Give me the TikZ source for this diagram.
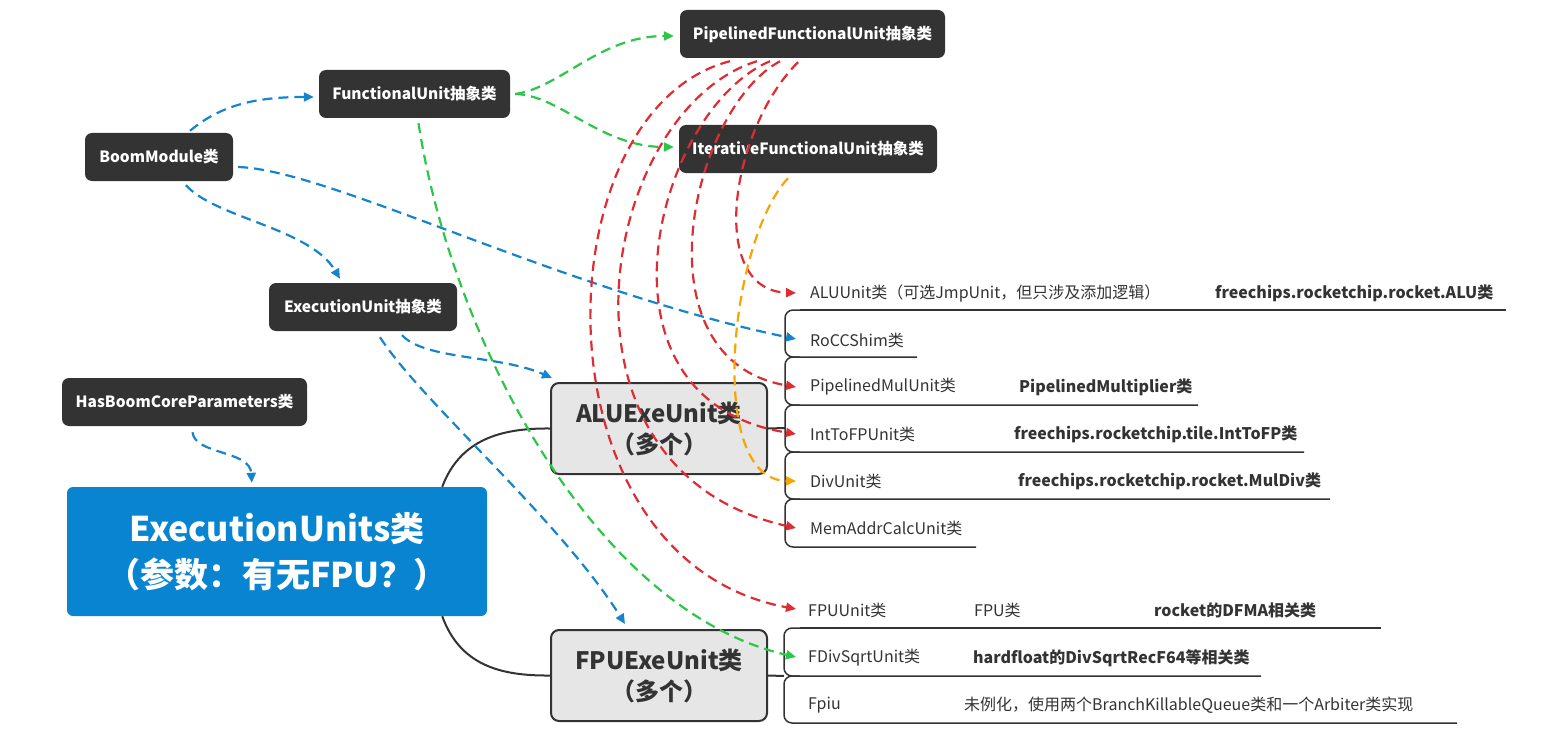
\documentclass[tikz,border=0pt]{standalone}
\usepackage{fontspec}
\setmainfont{Noto Sans CJK SC}
\usetikzlibrary{arrows.meta,calc}
\definecolor{dkbox}{RGB}{51,51,51}
\definecolor{txt}{RGB}{51,51,51}
\definecolor{bigblue}{RGB}{8,132,209}
\definecolor{lgray}{RGB}{230,230,230}
\definecolor{cblue}{RGB}{22,132,204}
\definecolor{cgreen}{RGB}{44,198,72}
\definecolor{cred}{RGB}{222,45,50}
\definecolor{corange}{RGB}{245,166,0}
\begin{document}
\begin{tikzpicture}[x=1pt,y=-1pt,
  dk/.style={rectangle, rounded corners=7pt, fill=dkbox, text=white, inner sep=0pt,
    font=\bfseries\fontsize{15.5}{18}\selectfont, minimum height=48pt},
  exe/.style={rectangle, rounded corners=8pt, fill=lgray, draw=dkbox, line width=2pt, text=txt,
    inner sep=0pt, align=center, font=\bfseries\fontsize{24}{31}\selectfont,
    minimum width=216pt, minimum height=91pt},
  item/.style={anchor=west, inner xsep=0pt, inner ysep=2pt, text=txt, font=\fontsize{16}{19}\selectfont},
  itemb/.style={item, font=\bfseries\fontsize{16}{19}\selectfont},
  conn/.style={line width=2.2pt, dash pattern=on 10pt off 6pt, -{Triangle[length=10pt,width=9pt]}},
  bl/.style={conn, cblue}, gr/.style={conn, cgreen}, rd/.style={conn, cred}, og/.style={conn, corange},
  brk/.style={draw=dkbox, line width=1.5pt, rounded corners=8pt},
  solid2/.style={draw=dkbox, line width=2pt}
]
\useasboundingbox (0,0) rectangle (1542,749);

% big root node and the two executor boxes
\node[rectangle, rounded corners=6pt, fill=bigblue, text=white, inner sep=0pt, align=center,
  minimum width=420pt, minimum height=129pt,
  font=\bfseries\fontsize{34}{46}\selectfont] (big) at (277,551.5) {ExecutionUnits类\\（参数：有无FPU？）};
\node[exe] (alux) at (659,428.5) {ALUExeUnit类\\（多个）};
\node[exe] (fpux) at (659,675.5) {FPUExeUnit类\\（多个）};
\draw[solid2] ($(big.north east)+(-45,0)$) .. controls (460,440) and (500,428) .. (alux.west);
\draw[solid2] ($(big.south east)+(-45,0)$) .. controls (460,665) and (500,676) .. (fpux.west);

% dark class nodes
\node[dk, minimum width=148pt] (boom) at (159,157) {BoomModule类};
\node[dk, minimum width=191pt] (fu) at (414.5,94) {FunctionalUnit抽象类};
\node[dk, minimum width=265pt] (pfu) at (812.5,34) {PipelinedFunctionalUnit抽象类};
\node[dk, minimum width=258pt] (ifu) at (808,149) {IterativeFunctionalUnit抽象类};
\node[dk, minimum width=188pt] (eu) at (363,307) {ExecutionUnit抽象类};
\node[dk, minimum width=245pt] (hbc) at (184.5,402) {HasBoomCoreParameters类};

% ALU list
\node[item] (aluu) at (810,293) {ALUUnit类（可选JmpUnit，但只涉及添加逻辑）};
\node[itemb] (alub) at (1215,293) {freechips.rocketchip.rocket.ALU类};
\node[item] (rocc) at (810,340) {RoCCShim类};
\node[item] (pmul) at (810,387) {PipelinedMulUnit类};
\node[itemb] (pmulb) at (1019,387) {PipelinedMultiplier类};
\node[item] (itf) at (810,434) {IntToFPUnit类};
\node[itemb] (itfb) at (1014,434) {freechips.rocketchip.tile.IntToFP类};
\node[item] (divu) at (810,481) {DivUnit类};
\node[itemb] (divb) at (1018,481) {freechips.rocketchip.rocket.MulDiv类};
\node[item] (mem) at (810,528) {MemAddrCalcUnit类};

% FPU list
\node[item] (fpuu) at (808,610) {FPUUnit类};
\node[item] (fpuc) at (974,610) {FPU类};
\node[itemb] (fpub) at (1154,610) {rocket的DFMA相关类};
\node[item] (fdiv) at (808,658) {FDivSqrtUnit类};
\node[itemb] (fdivb) at (973,658) {hardfloat的DivSqrtRecF64等相关类};
\node[item] (fpiu) at (808,705) {Fpiu};
\node[item] (fpiub) at (964,705) {未例化，使用两个BranchKillableQueue类和一个Arbiter类实现};

% brackets / underlines
\coordinate (ab) at (785,428);
\coordinate (fb) at (784,676);
\draw[solid2] (alux.east) -- (ab);
\draw[solid2] (fpux.east) -- (fb);
\draw[brk] (800,310) -- (1506,310);
\draw[brk] (800,310) -- (785,310) -- (785,357) -- (917,357);
\draw[brk] (800,357) -- (785,357) -- (785,405) -- (1198,405);
\draw[brk] (800,405) -- (785,405) -- (785,452) -- (1304,452);
\draw[brk] (800,452) -- (785,452) -- (785,499) -- (1330,499);
\draw[brk] (800,499) -- (785,499) -- (785,547) -- (976,547);
\draw[brk] (800,628) -- (1381,628);
\draw[brk] (800,628) -- (784,628) -- (784,676) -- (1261,676);
\draw[brk] (800,676) -- (784,676) -- (784,723) -- (1457,723);

% blue dashed arrows
\draw[bl] ($(boom.north)+(31,-2)$) .. controls (222,104) and (258,97) .. ($(fu.west)+(-5,3)$);
\draw[bl] ($(boom.south)+(27,4)$) .. controls (215,218) and (310,228) .. ($(eu.north)+(-23,-4)$);
\draw[bl] ($(boom.east)+(5,10)$) .. controls (330,170) and (560,290) .. ($(rocc.west)+(-14,-1)$);
\draw[bl] ($(eu.south)+(39,4)$) .. controls (425,360) and (500,355) .. ($(alux.north west)+(2,-4)$);
\draw[bl] ($(eu.south)+(17,6)$) .. controls (420,400) and (560,520) .. ($(fpux.north west)+(75,-5)$);
\draw[bl] ($(hbc.south)+(8,6)$) .. controls (195,455) and (250,450) .. ($(big.north west)+(185,-4)$);

% green dashed arrows
\draw[gr] ($(fu.east)+(5,0)$) .. controls (560,88) and (600,36) .. ($(pfu.west)+(-6,2)$);
\draw[gr] ($(fu.east)+(5,0)$) .. controls (560,95) and (600,147) .. ($(ifu.west)+(-5,-2)$);
\draw[gr] ($(fu.south)+(4,5)$) .. controls (450,330) and (590,610) .. ($(fdiv.west)+(-12,-1)$);

% red dashed arrows
\draw[rd] ($(pfu.south)+(-82.5,3)$) .. controls (540,110) and (530,560) .. ($(fpuu.west)+(-12,-1)$);
\draw[rd] ($(pfu.south)+(-55.5,3)$) .. controls (600,110) and (535,470) .. ($(mem.west)+(-14,0)$);
\draw[rd] ($(pfu.south)+(-42.5,3)$) .. controls (655,110) and (580,400) .. ($(itf.west)+(-14,0)$);
\draw[rd] ($(pfu.south)+(-32.5,3)$) .. controls (690,110) and (635,360) .. ($(pmul.west)+(-14,0)$);
\draw[rd] ($(pfu.south)+(-14.5,4)$) .. controls (730,130) and (707,290) .. ($(aluu.west)+(-14,0)$);

% orange dashed arrow
\draw[og] ($(ifu.south)+(-20,5)$) .. controls (730,240) and (705,480) .. ($(divu.west)+(-14,0)$);
\end{tikzpicture}
\end{document}
